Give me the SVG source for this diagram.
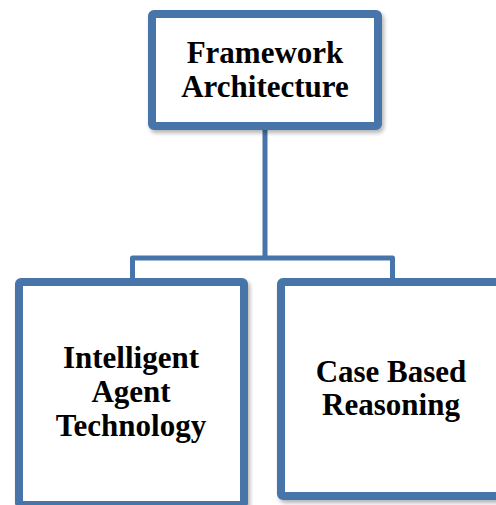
<svg xmlns="http://www.w3.org/2000/svg" width="496" height="505" viewBox="0 0 496 505">
<defs>
<filter id="sh" x="-10%" y="-10%" width="130%" height="130%">
<feGaussianBlur in="SourceAlpha" stdDeviation="2"/>
<feOffset dx="2" dy="3" result="b"/>
<feComponentTransfer><feFuncA type="linear" slope="0.3"/></feComponentTransfer>
<feMerge><feMergeNode/><feMergeNode in="SourceGraphic"/></feMerge>
</filter>
</defs>
<style>
.box{fill:#ffffff;stroke:#4774AA;stroke-width:8;filter:url(#sh)}
.lbl{font-family:"Liberation Serif","Times New Roman",serif;font-weight:bold;font-size:31px;fill:#000;text-anchor:middle}
.con{fill:none;stroke:#4774AA;stroke-width:5;stroke-linejoin:round}
</style>
<rect width="496" height="505" fill="#ffffff"/>
<g id="connectors">
<path class="con" d="M265 126 V258 M132.5 282 V258 H392.5 V282"/>
</g>
<g id="framework">
<rect class="box" x="152" y="14" width="226" height="112" rx="2"/>
<text class="lbl" x="265" y="63">Framework</text>
<text class="lbl" x="265" y="97">Architecture</text>
</g>
<g id="intelligent-agent">
<rect class="box" x="19" y="282" width="225" height="223" rx="2"/>
<text class="lbl" x="131" y="368">Intelligent</text>
<text class="lbl" x="131" y="402">Agent</text>
<text class="lbl" x="131" y="436">Technology</text>
</g>
<g id="cbr">
<rect class="box" x="281" y="282" width="222" height="214" rx="2"/>
<text class="lbl" x="391" y="382">Case Based</text>
<text class="lbl" x="391" y="415">Reasoning</text>
</g>
</svg>
